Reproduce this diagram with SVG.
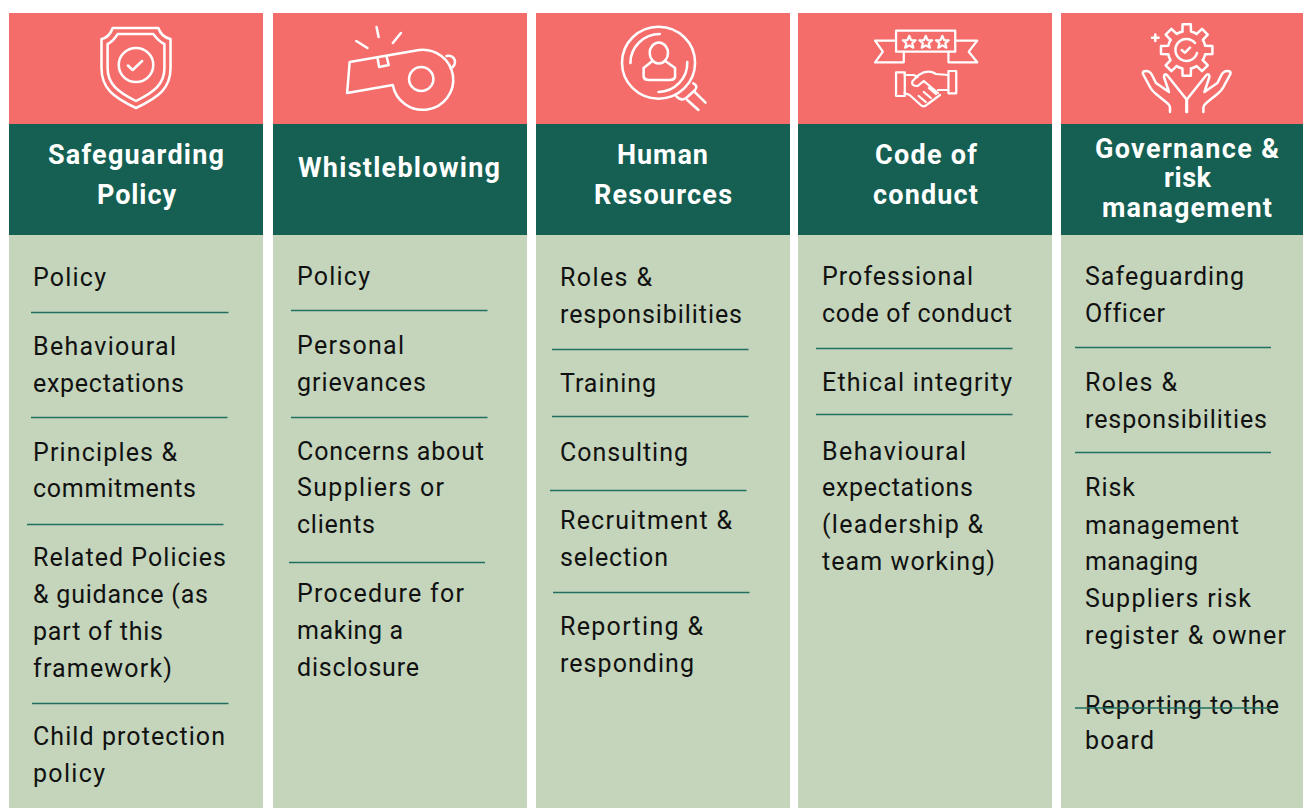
<svg xmlns="http://www.w3.org/2000/svg" xmlns:xlink="http://www.w3.org/1999/xlink" width="1303" height="808" viewBox="0 0 1303 808">
<style>
.pink{fill:#F46D6B}.green{fill:#156052}.pale{fill:#C4D5BC}
text{font-family:Roboto,"Liberation Sans",sans-serif;font-variant-ligatures:none}
.h{font-size:27px;font-weight:700;fill:#fff}
.b{font-size:25px;fill:#111}
.i{fill:none;stroke:#fff;stroke-width:2.5;stroke-linecap:round;stroke-linejoin:round}
.r{stroke:#226F5F;stroke-width:1.3}
</style>
<defs>
<path id="tooth" d="M-4.3,-18.5L-4.1,-25.7L4.1,-25.7L4.3,-18.5A19,19 0 0 1 10.1,-16.1"/>
<path id="star" d="M0,-6.5L1.8,-2.2L6.3,-2L2.9,1L4,5.4L0,3.1L-4,5.4L-2.9,1L-6.3,-2L-1.8,-2.2Z"/>
<path id="hand" d="M1143,74Q1142,71 1146,71Q1150,71 1152,75L1156,83L1169,92L1164,77Q1164,73 1167,75L1187,100V112M1143,74L1150,87Q1152,91 1156,94L1166,102Q1170,105 1170,108V112"/>
</defs>
<g id="safeguarding">
<rect class="pale" x="9" y="235" width="254" height="573"/><rect class="pink" x="9" y="13" width="254" height="111"/><rect class="green" x="9" y="124" width="254" height="111"/>
<g class="i" transform="scale(1.015,1)"><path d="M111,28H156C158,34 163,38 168,39V68C168,88 157,97 134,108C111,97 100,88 100,68V39C105,38 109,34 111,28Z"/><path d="M116,34H151C154,38 157,42 162,44V68C162,84 152,92 134,101C116,92 106,84 106,68V44C111,42 113,38 116,34Z"/><circle cx="134" cy="65" r="17"/><path d="M126,65.5L130.7,70L140,61"/></g>
<text class="h" x="48" y="164" textLength="176">Safeguarding</text><text class="h" x="97" y="204" textLength="79">Policy</text>
<text class="b" x="33" y="286" textLength="73">Policy</text><text class="b" x="33" y="355" textLength="143">Behavioural</text><text class="b" x="33" y="392" textLength="151">expectations</text><text class="b" x="33" y="461" textLength="144">Principles &amp;</text><text class="b" x="33" y="497" textLength="163">commitments</text><text class="b" x="33" y="566" textLength="193">Related Policies</text><text class="b" x="33" y="603" textLength="175">&amp; guidance (as</text><text class="b" x="33" y="640" textLength="130">part of this</text><text class="b" x="33" y="677" textLength="139">framework)</text><text class="b" x="33" y="745" textLength="192">Child protection</text><text class="b" x="33" y="782" textLength="72">policy</text>
</g>
<g id="whistleblowing">
<rect class="pale" x="273" y="235" width="254" height="573"/><rect class="pink" x="273" y="13" width="254" height="111"/><rect class="green" x="273" y="124" width="254" height="111"/>
<g class="i" transform="scale(1.015,1)"><path d="M342,93L344.5,62L413,50A30,30 0 1 1 387,85Z"/><circle cx="415" cy="79" r="12"/><path d="M372,58L373.5,67L383,65L381,57"/><path d="M440,56A5.5,5.5 0 1 1 444,68"/><path d="M351,41L362,48M371,27L373,37M387,43L395,33"/></g>
<text class="h" x="298" y="177" textLength="202">Whistleblowing</text>
<text class="b" x="297" y="285" textLength="73">Policy</text><text class="b" x="297" y="354" textLength="107">Personal</text><text class="b" x="297" y="391" textLength="129">grievances</text><text class="b" x="297" y="460" textLength="187">Concerns about</text><text class="b" x="297" y="496" textLength="147">Suppliers or</text><text class="b" x="297" y="533" textLength="78">clients</text><text class="b" x="297" y="602" textLength="167">Procedure for</text><text class="b" x="297" y="639" textLength="106">making a</text><text class="b" x="297" y="676" textLength="122">disclosure</text>
</g>
<g id="human-resources">
<rect class="pale" x="536" y="235" width="254" height="573"/><rect class="pink" x="536" y="13" width="254" height="111"/><rect class="green" x="536" y="124" width="254" height="111"/>
<g class="i" transform="matrix(1.015 0 0 1 -7 0)"><circle cx="655.7" cy="62.7" r="36"/><path d="M628,63A29,29 0 0 1 657,34M684,62A29,29 0 0 1 655.7,92"/><ellipse cx="656" cy="53" rx="9" ry="10.5"/><path d="M650,60.7L641,68V77Q642,80 646,80H667Q671,80 672,77V68L662,60.7"/><path d="M673,96Q678,101.7 683,98L691.7,90Q695,86 690,83.3M691,91.7L702,102.7M684,100L695,110"/></g>
<text class="h" x="617" y="164" textLength="91">Human</text><text class="h" x="594" y="204" textLength="138">Resources</text>
<text class="b" x="560" y="286" textLength="92">Roles &amp;</text><text class="b" x="560" y="323" textLength="182">responsibilities</text><text class="b" x="560" y="392" textLength="96">Training</text><text class="b" x="560" y="461" textLength="128">Consulting</text><text class="b" x="560" y="529" textLength="172">Recruitment &amp;</text><text class="b" x="560" y="566" textLength="108">selection</text><text class="b" x="560" y="635" textLength="143">Reporting &amp;</text><text class="b" x="560" y="672" textLength="134">responding</text>
</g>
<g id="code-of-conduct">
<rect class="pale" x="798" y="235" width="254" height="573"/><rect class="pink" x="798" y="13" width="254" height="111"/><rect class="green" x="798" y="124" width="254" height="111"/>
<g class="i" transform="matrix(1.015 0 0 1 -8 0)" style="stroke-width:2.2"><rect x="890.7" y="30.7" width="58.3" height="21"/><path d="M890.7,40.7H870L877.7,51.7L870,62.3H898.3V51.7M949,40.7H970.7L962.3,51.7L970.7,62.3H942.3V51.7"/><use xlink:href="#star" href="#star" x="903.7" y="42.3"/><use xlink:href="#star" href="#star" x="920" y="42.3"/><use xlink:href="#star" href="#star" x="936.3" y="42.3"/><rect x="890.7" y="72.3" width="8.6" height="23.7"/><rect x="942.3" y="71" width="7.7" height="22.3"/><path d="M942,75L930,74Q922,69 913,75L907,81Q905,86 912,86L918,81L932,93M899,93L904,95L915,105Q918,108 922,104L934,95M932,90H942M899,75H908L912,77M913,96L920,102M918,92L925,98M923,88L930,94"/></g>
<text class="h" x="875" y="164" textLength="102">Code of</text><text class="h" x="873" y="204" textLength="105">conduct</text>
<text class="b" x="822" y="285" textLength="151">Professional</text><text class="b" x="822" y="322" textLength="190">code of conduct</text><text class="b" x="822" y="391" textLength="190">Ethical integrity</text><text class="b" x="822" y="460" textLength="144">Behavioural</text><text class="b" x="822" y="496" textLength="151">expectations</text><text class="b" x="822" y="533" textLength="161">(leadership &amp;</text><text class="b" x="822" y="570" textLength="173">team working)</text>
</g>
<g id="governance">
<rect class="pale" x="1061" y="235" width="242" height="573"/><rect class="pink" x="1061" y="13" width="242" height="111"/><rect class="green" x="1061" y="124" width="242" height="111"/>
<g class="i"><g transform="translate(1186.7,50)"><use xlink:href="#tooth" href="#tooth"/><use xlink:href="#tooth" href="#tooth" transform="rotate(45)"/><use xlink:href="#tooth" href="#tooth" transform="rotate(90)"/><use xlink:href="#tooth" href="#tooth" transform="rotate(135)"/><use xlink:href="#tooth" href="#tooth" transform="rotate(180)"/><use xlink:href="#tooth" href="#tooth" transform="rotate(225)"/><use xlink:href="#tooth" href="#tooth" transform="rotate(270)"/><use xlink:href="#tooth" href="#tooth" transform="rotate(315)"/></g><path d="M1195,43A11,11 0 1 0 1197,53"/><path d="M1181.7,50L1185,52.7L1190,47.7"/><path d="M1155.3,34.5V41M1152,37.7H1158.6"/><use xlink:href="#hand" href="#hand"/><use xlink:href="#hand" href="#hand" transform="translate(2373.4,0) scale(-1,1)"/></g>
<text class="h" x="1095" y="158" textLength="184">Governance &amp;</text><text class="h" x="1164" y="187" textLength="47">risk</text><text class="h" x="1102" y="217" textLength="170">management</text>
<text class="b" x="1085" y="285" textLength="159">Safeguarding</text><text class="b" x="1085" y="322" textLength="80">Officer</text><text class="b" x="1085" y="391" textLength="92">Roles &amp;</text><text class="b" x="1085" y="428" textLength="182">responsibilities</text><text class="b" x="1085" y="496" textLength="50">Risk</text><text class="b" x="1085" y="534" textLength="154">management</text><text class="b" x="1085" y="570" textLength="113">managing</text><text class="b" x="1085" y="607" textLength="166">Suppliers risk</text><text class="b" x="1085" y="644" textLength="201">register &amp; owner</text><text class="b" x="1085" y="714" textLength="194">Reporting to the</text><text class="b" x="1085" y="749" textLength="69">board</text>
</g>
<g id="connectors" class="r">
<path class="r" fill="none" d="M31,312.5H228.5M31,417.5H227.5M27,524.5H223.5M32,703.5H228.5M291,310.5H487.5M291,417.5H487.5M289,562.5H485M552,349.5H748.5M552,416.5H748.5M550,490.5H746.5M553,592.5H749.5M816,348.5H1012.5M816,414.5H1012.5M1075,347.5H1271M1075,452.5H1271M1075,708H1271"/>
</g>
</svg>
